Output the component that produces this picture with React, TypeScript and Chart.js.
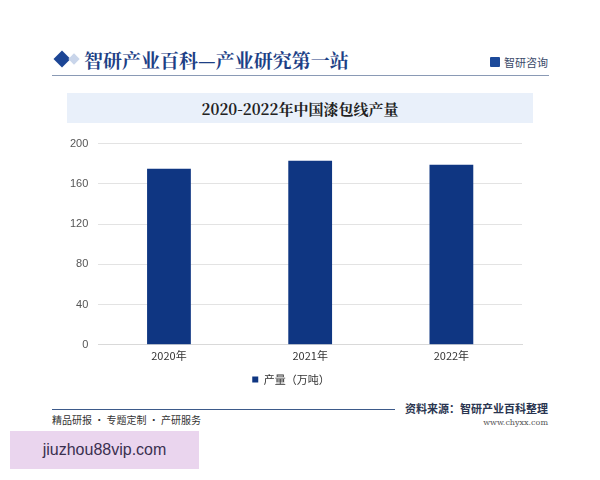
import React, { useEffect, useRef } from "react";
import { Chart, registerables } from "chart.js";

Chart.register(...registerables);

const categories = ["2020年", "2021年", "2022年"];
const seriesName = "产量（万吨）";
const production = [175, 183, 179];
const yTicks = [0, 40, 80, 120, 160, 200];

export default function App() {
  const ref = useRef<HTMLCanvasElement | null>(null);
  useEffect(() => {
    if (!ref.current) return;
    const chart = new Chart(ref.current, {
      type: "bar",
      data: {
        labels: categories,
        datasets: [
          {
            label: seriesName,
            data: production,
            backgroundColor: "#0f3682",
            borderColor: "#0f3682",
            barPercentage: 0.62,
            categoryPercentage: 0.5,
          },
        ],
      },
      options: {
        animation: false,
        responsive: false,
        maintainAspectRatio: false,
        layout: { padding: { left: 0, right: 20, top: 6, bottom: 0 } },
        plugins: {
          tooltip: { enabled: false },
          legend: {
            position: "bottom",
            labels: {
              boxWidth: 6,
              boxHeight: 6,
              color: "#333",
              font: { size: 11, family: "'Noto Sans CJK SC', sans-serif" },
              padding: 8,
            },
          },
        },
        scales: {
          x: {
            grid: { display: false, drawTicks: false },
            border: { display: true, color: "#d9d9d9" },
            ticks: {
              color: "#333",
              font: { size: 11, family: "'Noto Sans CJK SC', sans-serif" },
              padding: 4,
            },
          },
          y: {
            min: 0,
            max: 200,
            afterBuildTicks: (axis: any) => {
              axis.ticks = yTicks.map((v) => ({ value: v }));
            },
            grid: { color: "#e3e3e3", drawTicks: false },
            border: { display: false },
            ticks: {
              color: "#555",
              font: { size: 11, family: "Arial, 'Liberation Sans', sans-serif" },
              padding: 10,
            },
          },
        },
      },
    });
    return () => chart.destroy();
  }, []);

  const serif = "'Noto Serif CJK SC', 'Noto Sans CJK SC', serif";
  return (
    <div
      style={{
        position: "absolute",
        left: 0,
        top: 0,
        width: 600,
        height: 480,
        background: "#fff",
        overflow: "hidden",
        fontFamily: "'Noto Sans CJK SC', sans-serif",
      }}
    >
      {/* header */}
      <div
        style={{
          position: "absolute",
          left: 56,
          top: 53,
          width: 12,
          height: 12,
          background: "#1c4595",
          transform: "rotate(45deg)",
        }}
      />
      <div
        style={{
          position: "absolute",
          left: 70,
          top: 55,
          width: 8,
          height: 8,
          background: "#c9d5ea",
          transform: "rotate(45deg)",
        }}
      />
      <div
        style={{
          position: "absolute",
          left: 84,
          top: 47,
          fontSize: 19,
          fontWeight: 700,
          color: "#1d3f86",
          fontFamily: serif,
          whiteSpace: "nowrap",
          lineHeight: "26px",
        }}
      >
        智研产业百科—产业研究第一站
      </div>
      <div
        style={{
          position: "absolute",
          left: 490,
          top: 57,
          width: 10,
          height: 10,
          background: "#1d4a9a",
          borderRadius: 1,
        }}
      />
      <div
        style={{
          position: "absolute",
          left: 504,
          top: 54,
          fontSize: 11,
          color: "#3a4a6a",
          whiteSpace: "nowrap",
          lineHeight: "16px",
        }}
      >
        智研咨询
      </div>
      <div
        style={{
          position: "absolute",
          left: 52,
          top: 75,
          width: 497,
          height: 1,
          background: "#8a9ab5",
        }}
      />
      {/* title box */}
      <div
        style={{
          position: "absolute",
          left: 67,
          top: 93,
          width: 466,
          height: 30,
          background: "#e9f0fa",
          display: "flex",
          alignItems: "center",
          justifyContent: "center",
          fontSize: 15,
          fontWeight: 700,
          color: "#222",
          fontFamily: serif,
        }}
      >
        2020-2022年中国漆包线产量
      </div>
      {/* chart */}
      <div style={{ position: "absolute", left: 60, top: 127, width: 482, height: 268 }}>
        <canvas ref={ref} width={482} height={268} style={{ width: 482, height: 268 }} />
      </div>
      {/* footer */}
      <div
        style={{
          position: "absolute",
          left: 52,
          top: 409,
          width: 343,
          height: 1,
          background: "#3d5a8a",
        }}
      />
      <div
        style={{
          position: "absolute",
          left: 52,
          top: 413,
          fontSize: 10,
          color: "#333",
          whiteSpace: "nowrap",
          lineHeight: "14px",
        }}
      >
        精品研报 · 专题定制 · 产研服务
      </div>
      <div
        style={{
          position: "absolute",
          right: 52,
          top: 401,
          fontSize: 11,
          fontWeight: 700,
          color: "#2a3550",
          whiteSpace: "nowrap",
          lineHeight: "15px",
        }}
      >
        资料来源：智研产业百科整理
      </div>
      <div
        style={{
          position: "absolute",
          right: 52,
          top: 417,
          fontSize: 8,
          color: "#555",
          whiteSpace: "nowrap",
          fontFamily: "'DejaVu Serif', serif",
          lineHeight: "11px",
        }}
      >
        www.chyxx.com
      </div>
      <div
        style={{
          position: "absolute",
          left: 10,
          top: 431,
          width: 189,
          height: 38,
          background: "#ead5ee",
          display: "flex",
          alignItems: "center",
          justifyContent: "center",
          fontSize: 16,
          color: "#3a3050",
          fontFamily: "'Liberation Sans', Arial, sans-serif",
        }}
      >
        jiuzhou88vip.com
      </div>
    </div>
  );
}
